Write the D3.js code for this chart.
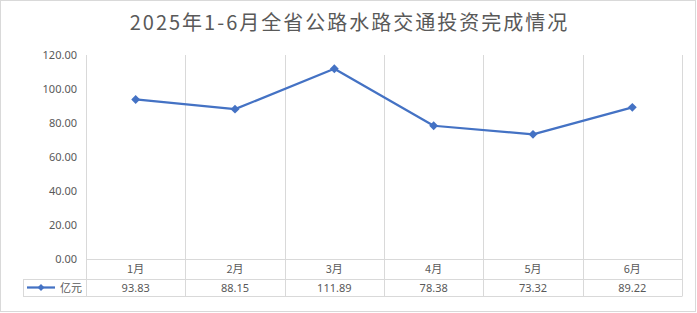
<!DOCTYPE html>
<html lang="zh-CN">
<head>
<meta charset="utf-8">
<title>2025年1-6月全省公路水路交通投资完成情况</title>
<script src="https://d3js.org/d3.v7.min.js"></script>
<style>
  body { margin: 0; background: #fff; }
  svg { display: block; font-family: "Noto Sans CJK SC", "Noto Sans", sans-serif; }
</style>
</head>
<body>
<div id="chart"></div>
<script>
// data
var months = ["1月", "2月", "3月", "4月", "5月", "6月"];
var values = [93.83, 88.15, 111.89, 78.38, 73.32, 89.22];
var yTicks = [0, 20, 40, 60, 80, 100, 120];
var seriesName = "亿元";

var W = 697, H = 313;
var plotLeft = 86, plotRight = 682, plotTop = 55, plotBottom = 259;
var row1 = 279, row2 = 296, legendLeft = 23;
var gridColor = "#d9d9d9", textColor = "#595959", lineColor = "#4472C4";

var svg = d3.select("#chart").append("svg")
  .attr("width", W).attr("height", H);

svg.append("rect")
  .attr("x", 0.5).attr("y", 0.5)
  .attr("width", W - 2).attr("height", H - 2)
  .attr("fill", "#fff").attr("stroke", gridColor);

svg.append("text")
  .attr("x", W / 2 + 1).attr("y", 30)
  .attr("text-anchor", "middle")
  .attr("fill", textColor)
  .style("font-size", "20px")
  .style("letter-spacing", "2px")
  .text("2025年1-6月全省公路水路交通投资完成情况");

var x = d3.scaleBand().domain(months).range([plotLeft, plotRight]);
var y = d3.scaleLinear().domain([0, 120]).range([plotBottom, plotTop]);

// vertical grid lines (category boundaries), running through the data table
var bounds = months.map(function (m) { return x(m); }).concat([plotRight]);
svg.append("g").selectAll("line")
  .data(bounds)
  .join("line")
  .attr("x1", function (d) { return Math.round(d) + 0.5; })
  .attr("x2", function (d) { return Math.round(d) + 0.5; })
  .attr("y1", plotTop)
  .attr("y2", row2)
  .attr("stroke", gridColor);

// table horizontal lines
svg.append("g").selectAll("line")
  .data([plotBottom, row1, row2])
  .join("line")
  .attr("x1", function (d) { return d === plotBottom ? plotLeft : legendLeft; })
  .attr("x2", plotRight + 0.5)
  .attr("y1", function (d) { return d + 0.5; })
  .attr("y2", function (d) { return d + 0.5; })
  .attr("stroke", gridColor);

svg.append("line")
  .attr("x1", legendLeft + 0.5).attr("x2", legendLeft + 0.5)
  .attr("y1", row1).attr("y2", row2 + 0.5)
  .attr("stroke", gridColor);

// y axis labels
var yAxis = d3.axisLeft(y).tickValues(yTicks).tickSize(0).tickPadding(9)
  .tickFormat(d3.format(".2f"));
var gy = svg.append("g").attr("transform", "translate(" + plotLeft + ",0)").call(yAxis);
gy.select(".domain").remove();
gy.selectAll("text")
  .attr("fill", textColor)
  .style("font-family", "'Noto Sans', sans-serif")
  .style("font-size", "11px");

// category labels row
svg.append("g").selectAll("text")
  .data(months)
  .join("text")
  .attr("x", function (d) { return x(d) + x.bandwidth() / 2; })
  .attr("y", (plotBottom + row1) / 2 + 4)
  .attr("text-anchor", "middle")
  .attr("fill", textColor)
  .style("font-size", "11px")
  .text(function (d) { return d; });

// values row
svg.append("g").selectAll("text")
  .data(values)
  .join("text")
  .attr("x", function (d, i) { return x(months[i]) + x.bandwidth() / 2; })
  .attr("y", (row1 + row2) / 2 + 4)
  .attr("text-anchor", "middle")
  .attr("fill", textColor)
  .style("font-family", "'Noto Sans', sans-serif")
  .style("font-size", "11px")
  .text(function (d) { return d.toFixed(2); });

// legend key in the table
var ly = (row1 + row2) / 2;
svg.append("line")
  .attr("x1", 27).attr("x2", 55)
  .attr("y1", ly).attr("y2", ly)
  .attr("stroke", lineColor).attr("stroke-width", 2.25);
svg.append("path")
  .attr("d", d3.symbol(d3.symbolDiamond2, 30)())
  .attr("transform", "translate(41," + ly + ")")
  .attr("fill", lineColor);
svg.append("text")
  .attr("x", 60).attr("y", ly + 4)
  .attr("fill", textColor)
  .style("font-size", "11px")
  .text(seriesName);

// series line
var line = d3.line()
  .x(function (d, i) { return x(months[i]) + x.bandwidth() / 2; })
  .y(function (d) { return y(d); });

svg.append("path")
  .datum(values)
  .attr("d", line)
  .attr("fill", "none")
  .attr("stroke", lineColor)
  .attr("stroke-width", 2.25)
  .attr("stroke-linejoin", "round");

svg.append("g").selectAll("path")
  .data(values)
  .join("path")
  .attr("d", d3.symbol(d3.symbolDiamond2, 50)())
  .attr("transform", function (d, i) {
    return "translate(" + (x(months[i]) + x.bandwidth() / 2) + "," + y(d) + ")";
  })
  .attr("fill", lineColor);
</script>
</body>
</html>
